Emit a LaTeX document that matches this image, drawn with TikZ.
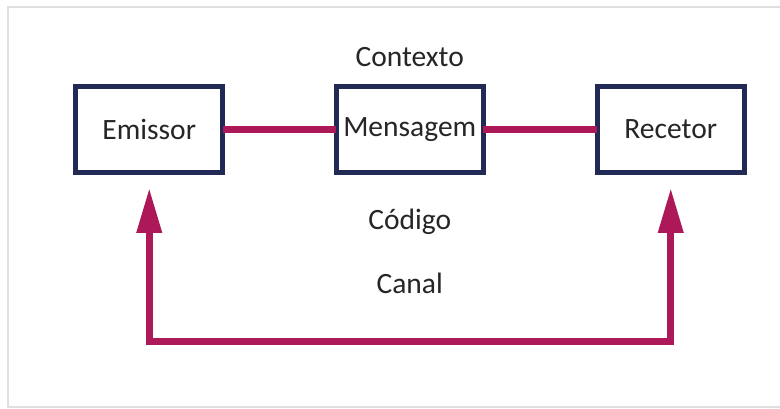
\documentclass[tikz,border=0pt]{standalone}
\usepackage{fontspec}
\setmainfont{Carlito}
\usetikzlibrary{arrows.meta}
\definecolor{boxblue}{RGB}{32,42,84}
\definecolor{linkred}{RGB}{172,24,88}
\definecolor{txt}{RGB}{38,38,38}
\begin{document}
\begin{tikzpicture}[x=1pt,y=1pt,
  boxnode/.style={draw=boxblue, line width=4.8pt, fill=white, inner sep=0pt, outer sep=0pt,
    minimum width=147pt, minimum height=86pt, font=\fontsize{29.5}{33}\selectfont, text=txt},
  label/.style={font=\fontsize{29.5}{33}\selectfont, text=txt, inner sep=0pt},
  link/.style={draw=linkred, line width=7pt},
  feedback/.style={draw=linkred, line width=7pt,
    {Triangle[length=45pt,width=24pt]}-{Triangle[length=45pt,width=24pt]},
    shorten <=15.7pt, shorten >=15.7pt}]
\useasboundingbox (0,0) rectangle (780,409);
\fill[white] (0,0) rectangle (780,409);
% faint screenshot shadow frame
\draw[gray!25, line width=2pt] (8,1) -- (8,402) -- (780,402);
\draw[gray!25, line width=2pt] (8,1.5) -- (780,1.5);
\node[boxnode] (em) at (149.25,279.7) {Emissor};
\node[boxnode] (me) at (409.75,279.7) {};
\node[boxnode] (re) at (670.75,279.7) {Recetor};
\draw[link] (em.east) -- (me.west);
\draw[link] (me.east) -- (re.west);
\node[label] (mt) at (me.center) {Mensagem};
\node[label] (ctx) at (409.75,352) {Contexto};
\node[label] (cod) at (409.75,187) {Código};
\node[label] (can) at (409.75,126) {Canal};
\coordinate (bot) at (409.75,67.5);
\draw[feedback, line cap=butt, line join=miter] (em.south) |- (bot) -| (re.south);
\end{tikzpicture}
\end{document}
